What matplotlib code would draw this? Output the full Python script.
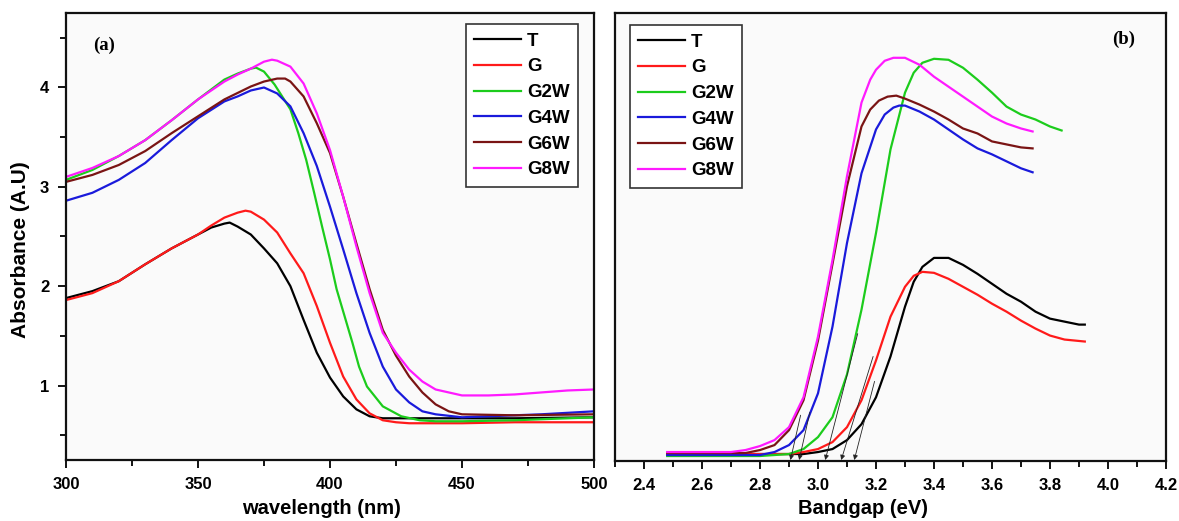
"""UV-Vis absorbance spectra (a) and bandgap plots (b) for the T/G/GxW samples."""

import matplotlib

matplotlib.use("Agg")

import matplotlib.pyplot as plt
from matplotlib.ticker import MultipleLocator

plt.rcParams["font.family"] = ["Liberation Sans", "DejaVu Sans"]
plt.rcParams["font.weight"] = "bold"

SAMPLES = ["T", "G", "G2W", "G4W", "G6W", "G8W"]

COLORS = {
    "T": "#000000",
    "G": "#ff1a1a",
    "G2W": "#1ccc1c",
    "G4W": "#1a1adb",
    "G6W": "#7a1414",
    "G8W": "#ff1aff",
}

# ---- panel (a): absorbance vs wavelength ----
wl_T = [300, 310, 320, 330, 340, 350, 355, 360, 362, 365, 370, 375, 380, 385, 390,
        395, 400, 405, 410, 415, 420, 430, 450, 470, 500]
abs_T = [1.88, 1.95, 2.05, 2.22, 2.38, 2.52, 2.59, 2.63, 2.64, 2.60, 2.52, 2.38, 2.23,
         2.00, 1.66, 1.33, 1.08, 0.89, 0.76, 0.69, 0.67, 0.67, 0.67, 0.67, 0.68]

wl_G = [300, 310, 320, 330, 340, 350, 355, 360, 365, 368, 370, 375, 380, 385, 390,
        395, 400, 405, 410, 415, 420, 425, 430, 450, 470, 500]
abs_G = [1.86, 1.93, 2.05, 2.22, 2.38, 2.52, 2.61, 2.69, 2.74, 2.76, 2.75, 2.67, 2.54,
         2.33, 2.13, 1.80, 1.43, 1.09, 0.86, 0.72, 0.65, 0.63, 0.62, 0.62, 0.63, 0.63]

wl_G2W = [300, 310, 320, 330, 340, 350, 355, 360, 365, 370, 372, 375, 379, 385, 388,
          391, 394, 397, 400, 402.5, 405.5, 408.5, 411, 414, 420, 427, 434, 440, 450,
          470, 500]
abs_G2W = [3.07, 3.17, 3.31, 3.47, 3.67, 3.88, 3.98, 4.08, 4.14, 4.19, 4.20, 4.16, 4.03,
           3.78, 3.54, 3.27, 2.94, 2.60, 2.27, 1.97, 1.70, 1.43, 1.19, 0.99, 0.79, 0.69,
           0.65, 0.64, 0.64, 0.65, 0.68]

wl_G4W = [300, 310, 320, 330, 340, 350, 360, 365, 370, 375, 380, 385, 390, 395, 400,
          405, 410, 415, 420, 425, 430, 435, 440, 450, 460, 480, 500]
abs_G4W = [2.86, 2.94, 3.07, 3.24, 3.47, 3.69, 3.86, 3.91, 3.97, 4.00, 3.94, 3.81, 3.54,
           3.21, 2.80, 2.37, 1.93, 1.53, 1.19, 0.96, 0.83, 0.74, 0.71, 0.68, 0.69, 0.71,
           0.74]

wl_G6W = [300, 310, 320, 330, 340, 350, 360, 370, 375, 380, 383, 385, 390, 395, 400,
          405, 410, 415, 420, 425, 430, 435, 440, 445, 450, 470, 500]
abs_G6W = [3.05, 3.12, 3.22, 3.36, 3.54, 3.71, 3.88, 4.01, 4.06, 4.09, 4.09, 4.06, 3.91,
           3.64, 3.34, 2.90, 2.43, 1.97, 1.56, 1.30, 1.09, 0.93, 0.81, 0.74, 0.71, 0.70,
           0.71]

wl_G8W = [300, 310, 320, 330, 340, 350, 360, 365, 370, 375, 378, 380, 385, 390, 395,
          400, 405, 410, 415, 420, 425, 430, 435, 440, 445, 450, 460, 470, 480, 490, 500]
abs_G8W = [3.10, 3.19, 3.31, 3.47, 3.67, 3.88, 4.06, 4.13, 4.19, 4.26, 4.28, 4.27, 4.21,
           4.04, 3.74, 3.37, 2.90, 2.40, 1.93, 1.53, 1.33, 1.16, 1.04, 0.96, 0.93, 0.90,
           0.90, 0.91, 0.93, 0.95, 0.96]

# ---- panel (b): bandgap curves ----
ev_T = [2.48, 2.6, 2.8, 2.91, 2.95, 3.0, 3.05, 3.1, 3.15, 3.2, 3.25, 3.3, 3.33, 3.36,
        3.4, 3.45, 3.5, 3.55, 3.6, 3.65, 3.7, 3.75, 3.8, 3.85, 3.9, 3.92]
y_T = [0.32, 0.32, 0.32, 0.32, 0.32, 0.34, 0.37, 0.46, 0.62, 0.89, 1.30, 1.80, 2.05,
       2.20, 2.29, 2.29, 2.22, 2.13, 2.03, 1.93, 1.85, 1.75, 1.68, 1.65, 1.62, 1.62]

ev_G = [2.48, 2.6, 2.8, 2.9, 2.95, 3.0, 3.05, 3.1, 3.15, 3.2, 3.25, 3.3, 3.33, 3.36,
        3.4, 3.45, 3.5, 3.55, 3.6, 3.65, 3.7, 3.75, 3.8, 3.85, 3.92]
y_G = [0.32, 0.32, 0.32, 0.32, 0.34, 0.37, 0.44, 0.59, 0.86, 1.26, 1.70, 2.00, 2.11,
       2.15, 2.14, 2.08, 2.00, 1.92, 1.83, 1.75, 1.66, 1.58, 1.51, 1.47, 1.45]

ev_G2W = [2.48, 2.6, 2.8, 2.9, 2.95, 3.0, 3.05, 3.1, 3.15, 3.2, 3.25, 3.3, 3.33, 3.36,
          3.4, 3.45, 3.5, 3.55, 3.6, 3.65, 3.7, 3.75, 3.8, 3.84]
y_G2W = [0.30, 0.30, 0.30, 0.32, 0.37, 0.49, 0.69, 1.12, 1.77, 2.54, 3.38, 3.95, 4.15,
         4.25, 4.29, 4.28, 4.20, 4.08, 3.95, 3.81, 3.73, 3.68, 3.61, 3.57]

ev_G4W = [2.48, 2.6, 2.8, 2.85, 2.9, 2.95, 3.0, 3.05, 3.1, 3.15, 3.2, 3.23, 3.26, 3.28,
          3.3, 3.35, 3.4, 3.45, 3.5, 3.55, 3.6, 3.65, 3.7, 3.74]
y_G4W = [0.31, 0.31, 0.31, 0.34, 0.41, 0.56, 0.93, 1.60, 2.44, 3.14, 3.58, 3.73, 3.80,
         3.82, 3.82, 3.76, 3.68, 3.58, 3.48, 3.39, 3.33, 3.26, 3.19, 3.15]

ev_G6W = [2.48, 2.6, 2.75, 2.8, 2.85, 2.9, 2.95, 3.0, 3.05, 3.1, 3.15, 3.18, 3.21, 3.24,
          3.27, 3.3, 3.35, 3.4, 3.45, 3.5, 3.55, 3.6, 3.65, 3.7, 3.74]
y_G6W = [0.33, 0.33, 0.33, 0.36, 0.41, 0.56, 0.86, 1.46, 2.23, 3.01, 3.61, 3.78, 3.87,
         3.91, 3.92, 3.89, 3.83, 3.76, 3.68, 3.59, 3.54, 3.46, 3.43, 3.40, 3.39]

ev_G8W = [2.48, 2.6, 2.7, 2.75, 2.8, 2.85, 2.9, 2.95, 3.0, 3.05, 3.1, 3.15, 3.18, 3.2,
          3.23, 3.26, 3.3, 3.35, 3.4, 3.45, 3.5, 3.55, 3.6, 3.65, 3.7, 3.74]
y_G8W = [0.34, 0.34, 0.34, 0.36, 0.40, 0.46, 0.59, 0.89, 1.50, 2.27, 3.11, 3.85, 4.08,
         4.18, 4.27, 4.30, 4.30, 4.23, 4.11, 4.01, 3.91, 3.81, 3.71, 3.64, 3.59, 3.56]

# tangent extrapolations down to the energy axis (bandgap estimates)
gap_values = [2.905, 2.935, 3.025, 3.08, 3.125]
tangent_top_x = [2.94, 2.972, 3.137, 3.19, 3.195]
tangent_top_y = [0.71, 0.74, 1.53, 1.30, 1.05]
tangent_foot_y = 0.26

spectra_a = {
    "T": (wl_T, abs_T), "G": (wl_G, abs_G), "G2W": (wl_G2W, abs_G2W),
    "G4W": (wl_G4W, abs_G4W), "G6W": (wl_G6W, abs_G6W), "G8W": (wl_G8W, abs_G8W),
}
spectra_b = {
    "T": (ev_T, y_T), "G": (ev_G, y_G), "G2W": (ev_G2W, y_G2W),
    "G4W": (ev_G4W, y_G4W), "G6W": (ev_G6W, y_G6W), "G8W": (ev_G8W, y_G8W),
}

FIG_W, FIG_H = 1179, 521


def style_frame(ax):
    ax.set_facecolor("#fafafa")
    for spine in ax.spines.values():
        spine.set_linewidth(1.6)
        spine.set_color("#111111")
    ax.tick_params(which="both", direction="out", top=False, right=False,
                   labelsize=12, width=1.3, pad=6)
    ax.tick_params(which="major", length=6)
    ax.tick_params(which="minor", length=4)


def add_legend(ax, left_px, top_px):
    leg = ax.legend(loc="upper left", bbox_to_anchor=(left_px / FIG_W, 1 - top_px / FIG_H),
                    bbox_transform=fig.transFigure, borderaxespad=0.0,
                    handlelength=2.5, handletextpad=0.3, labelspacing=0.46,
                    borderpad=0.45, fancybox=False, framealpha=1.0,
                    prop={"weight": "bold", "size": 13.5})
    leg.get_frame().set_edgecolor("#333333")
    leg.get_frame().set_linewidth(1.2)


fig = plt.figure(figsize=(FIG_W / 100, FIG_H / 100), dpi=100)
fig.patch.set_facecolor("white")

ax_a = fig.add_axes([66 / FIG_W, 1 - 460 / FIG_H, 528 / FIG_W, 447 / FIG_H])
ax_b = fig.add_axes([615 / FIG_W, 1 - 461 / FIG_H, 551 / FIG_W, 448 / FIG_H])

for name in SAMPLES:
    x, y = spectra_a[name]
    ax_a.plot(x, y, color=COLORS[name], linewidth=1.6, label=name)

style_frame(ax_a)
ax_a.set_xlim(300, 500)
ax_a.set_ylim(0.25, 4.75)
ax_a.xaxis.set_major_locator(MultipleLocator(50))
ax_a.xaxis.set_minor_locator(MultipleLocator(25))
ax_a.yaxis.set_major_locator(MultipleLocator(1))
ax_a.yaxis.set_minor_locator(MultipleLocator(0.5))
for lbl in ax_a.get_xticklabels() + ax_a.get_yticklabels():
    lbl.set_fontweight("bold")
ax_a.set_xlabel("wavelength (nm)", fontsize=14.5, fontweight="bold")
ax_a.xaxis.set_label_coords((322 - 66) / 528, -(499 - 460) / 447)
ax_a.set_ylabel("Absorbance (A.U)", fontsize=15, fontweight="bold")
ax_a.yaxis.set_label_coords(-(66 - 30) / 528, (460 - 250) / 447)
ax_a.text((93 - 66) / 528, (460 - 45) / 447, "(a)", transform=ax_a.transAxes,
          fontsize=13.5, fontweight="bold", va="center",
          family=["Liberation Serif", "DejaVu Serif"])
add_legend(ax_a, 466, 24)

for name in SAMPLES:
    x, y = spectra_b[name]
    ax_b.plot(x, y, color=COLORS[name], linewidth=1.6, label=name)

for gx, tx, ty in zip(gap_values, tangent_top_x, tangent_top_y):
    ax_b.annotate("", xy=(gx, tangent_foot_y), xytext=(tx, ty),
                  arrowprops=dict(arrowstyle="-|>", color="#222222", lw=0.6,
                                  mutation_scale=7, shrinkA=0, shrinkB=0))

style_frame(ax_b)
ax_b.set_xlim(2.3, 4.2)
ax_b.set_ylim(0.25, 4.75)
ax_b.xaxis.set_minor_locator(MultipleLocator(0.1))
ax_b.set_xticks([2.4, 2.6, 2.8, 3.0, 3.2, 3.4, 3.6, 3.8, 4.0, 4.2])
ax_b.set_xticklabels(["2.4", "2.6", "2.8", "3.0", "3.2", "3.4", "3.6", "3.8", "4.0", "4.2"],
                     fontweight="bold")
ax_b.tick_params(axis="y", which="both", left=False, labelleft=False)
ax_b.set_xlabel("Bandgap (eV)", fontsize=14.5, fontweight="bold")
ax_b.xaxis.set_label_coords((863 - 615) / 551, -(499 - 461) / 448)
ax_b.text((1112 - 615) / 551, (461 - 39) / 448, "(b)", transform=ax_b.transAxes,
          fontsize=13.5, fontweight="bold", va="center",
          family=["Liberation Serif", "DejaVu Serif"])
add_legend(ax_b, 630, 25)

fig.savefig("out.png", dpi=100)
plt.close(fig)
